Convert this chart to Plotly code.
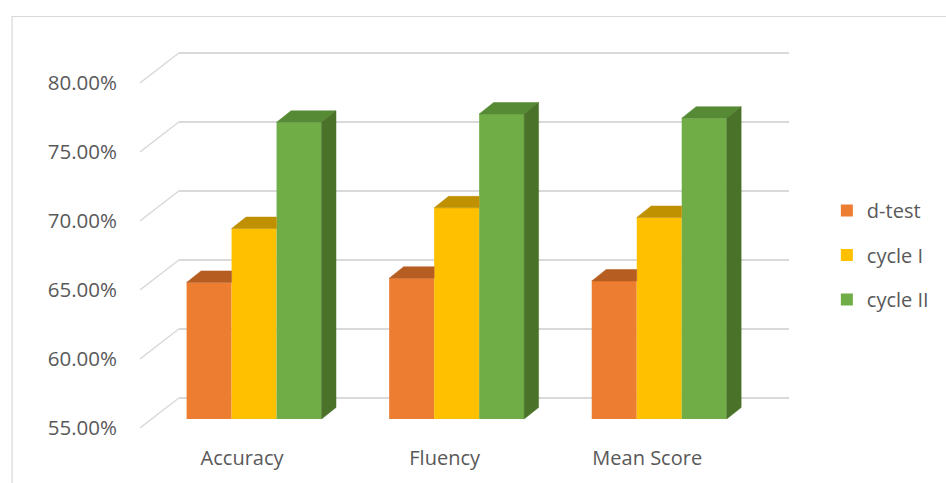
import plotly.graph_objects as go

# ---- data ----
categories = ["Accuracy", "Fluency", "Mean Score"]
series_names = ["d-test", "cycle I", "cycle II"]
d_test = [0.649, 0.652, 0.650]
cycle_1 = [0.688, 0.703, 0.696]
cycle_2 = [0.765, 0.771, 0.768]
y_ticks = [0.55, 0.60, 0.65, 0.70, 0.75, 0.80]

series_values = [d_test, cycle_1, cycle_2]
front_colors = ["#ED7D31", "#FFC000", "#70AD47"]
top_colors = ["#B65E22", "#BF9000", "#578A35"]
side_color = "#4A7229"
grid_color = "#D9D9D9"
text_color = "#595959"
FONT = "Open Sans"

# ---- geometry (pixels) ----
W, H = 946, 483
L, R, T, B = 140, 800, 30, 440     # plot area
PX_X = 203.5                        # px per category step
PX_Y = 1380.0                       # px per unit of value (fraction)
X0_PX = 254.6                       # pixel of first category centre (bar plane)
BASE = 0.55                         # floor value
BASE_PX = 419                       # pixel of floor on bar plane

y_lo = BASE - (B - BASE_PX) / PX_Y
y_hi = BASE + (BASE_PX - T) / PX_Y
x_lo = (L - X0_PX) / PX_X
x_hi = (R - X0_PX) / PX_X

bar_w = 45.2 / PX_X
DX = 14.5 / PX_X
DY = 11.5 / PX_Y
BACK_DY = 21.0 / PX_Y
FRONT_DY = -9.0 / PX_Y
back_x0 = (179 - X0_PX) / PX_X
back_x1 = (792 - X0_PX) / PX_X

fig = go.Figure()
n = len(series_values)
xs = list(range(len(categories)))

# front faces
for j, (name, vals) in enumerate(zip(series_names, series_values)):
    off = (j - n / 2) * bar_w
    fig.add_trace(go.Bar(
        x=xs, y=[v - BASE for v in vals], base=BASE,
        width=bar_w, offset=off, name=name,
        marker=dict(color=front_colors[j], line=dict(width=0)),
        legendgroup=name, hoverinfo="skip",
    ))

# top faces (clipped by next bar) and side face of last bar
for j, vals in enumerate(series_values):
    off = (j - n / 2) * bar_w
    px, py = [], []
    for i, v in zip(xs, vals):
        xl = i + off
        xr = xl + bar_w
        if j < n - 1:
            px += [xl, xr, xr, xl + DX, xl, None]
            py += [v, v, v + DY, v + DY, v, None]
        else:
            px += [xl, xr, xr + DX, xl + DX, xl, None]
            py += [v, v, v + DY, v + DY, v, None]
    fig.add_trace(go.Scatter(
        x=px, y=py, mode="lines", fill="toself",
        fillcolor=top_colors[j], line=dict(color=top_colors[j], width=0.5),
        showlegend=False, hoverinfo="skip",
    ))
    if j == n - 1:
        sx, sy = [], []
        for i, v in zip(xs, vals):
            xr = i + off + bar_w
            sx += [xr, xr + DX, xr + DX, xr, xr, None]
            sy += [BASE, BASE + DY, v + DY, v, BASE, None]
        fig.add_trace(go.Scatter(
            x=sx, y=sy, mode="lines", fill="toself",
            fillcolor=side_color, line=dict(color=side_color, width=0.5),
            showlegend=False, hoverinfo="skip",
        ))

# back-wall gridlines and side-wall diagonals
shapes = []
for t in y_ticks:
    shapes.append(dict(type="line", xref="x", yref="y", layer="below",
                       x0=back_x0, x1=back_x1, y0=t + BACK_DY, y1=t + BACK_DY,
                       line=dict(color=grid_color, width=2)))
    shapes.append(dict(type="line", xref="x", yref="y", layer="below",
                       x0=x_lo, x1=back_x0, y0=t + FRONT_DY, y1=t + BACK_DY,
                       line=dict(color=grid_color, width=1.5)))

# outer chart border (cropped at right/bottom)
def px2paper_x(p):
    return (p - L) / (R - L)

def px2paper_y(p):
    return (B - p) / (B - T)

shapes.append(dict(type="path", xref="paper", yref="paper", layer="below",
                   path="M {:.4f} {:.4f} L {:.4f} {:.4f} L {:.4f} {:.4f}".format(
                       px2paper_x(11.5), px2paper_y(490),
                       px2paper_x(11.5), px2paper_y(16.5),
                       px2paper_x(950), px2paper_y(16.5)),
                   line=dict(color=grid_color, width=1.2)))

fig.update_layout(
    width=W, height=H,
    margin=dict(l=L, r=W - R, t=T, b=H - B, pad=0),
    paper_bgcolor="white", plot_bgcolor="white",
    barmode="overlay",
    font=dict(family=FONT, size=20, color=text_color),
    shapes=shapes,
    showlegend=True,
    legend=dict(
        x=px2paper_x(830), y=px2paper_y(191), xanchor="left", yanchor="top",
        font=dict(family=FONT, size=20, color=text_color),
        tracegroupgap=15.5, bgcolor="rgba(0,0,0,0)",
    ),
    xaxis=dict(range=[x_lo, x_hi], tickvals=xs, ticktext=categories,
               showgrid=False, zeroline=False, showline=False, ticks="",
               ticklabelshift=-12, ticklabelstandoff=4, fixedrange=True),
    yaxis=dict(range=[y_lo, y_hi], tickvals=y_ticks, tickformat=".2%",
               tickfont=dict(family=FONT, size=20.5, color=text_color),
               showgrid=False, zeroline=False, showline=False, ticks="",
               ticklabelshift=9, ticklabelstandoff=22, fixedrange=True),
)

fig.write_html("out.html")
